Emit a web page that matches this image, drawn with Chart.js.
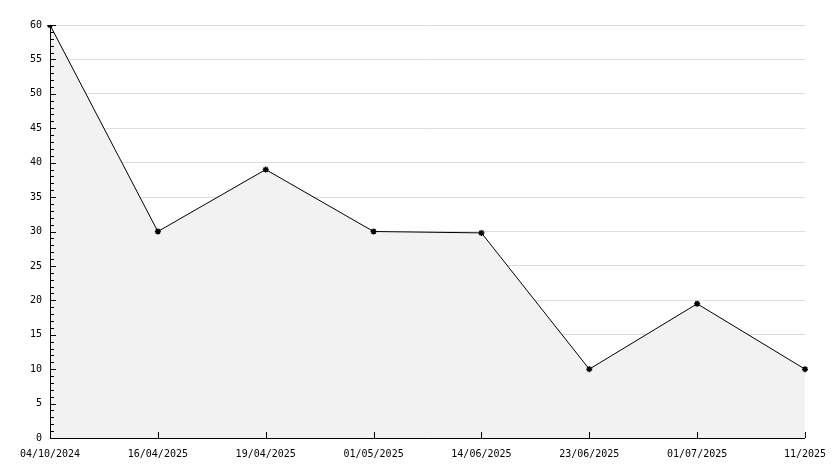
<!DOCTYPE html>
<html><head><meta charset="utf-8">
<script src="https://cdn.jsdelivr.net/npm/chart.js@4"></script>
<style>html,body{margin:0;background:#fff}#wrap{width:834px;height:468px}</style>
</head><body><div id="wrap"><canvas id="c"></canvas></div>
<script>
const labels = ["04/10/2024","16/04/2025","19/04/2025","01/05/2025","14/06/2025","23/06/2025","01/07/2025","11/2025"];
const values = [60, 30, 39, 30, 29.8, 10, 19.5, 10];
const yMax = 60, yStep = 5;

// inward tick marks, minor ticks on y every unit
const ticksPlugin = {
  id: "inwardTicks",
  afterDraw(chart) {
    const ctx = chart.ctx, x = chart.scales.x, y = chart.scales.y, a = chart.chartArea;
    ctx.save();
    ctx.strokeStyle = "#000"; ctx.lineWidth = 1;
    ctx.beginPath();
    ctx.moveTo(a.left + 0.5, a.top); ctx.lineTo(a.left + 0.5, a.bottom + 0.5); ctx.lineTo(a.right, a.bottom + 0.5);
    for (let v = 0; v <= yMax; v++) {
      const py = Math.round(y.getPixelForValue(v)) + 0.5;
      ctx.moveTo(a.left, py); ctx.lineTo(a.left + (v % yStep === 0 ? 6 : 4), py);
    }
    labels.forEach((l, i) => {
      if (i === 0) return;
      const px = Math.round(x.getPixelForValue(i)) + 0.5;
      ctx.moveTo(px, a.bottom); ctx.lineTo(px, a.bottom - 6);
    });
    ctx.stroke();
    ctx.restore();
  }
};

new Chart(document.getElementById("c"), {
  type: "line",
  data: {
    labels: labels,
    datasets: [{
      data: values,
      borderColor: "#000",
      borderWidth: 1,
      backgroundColor: "#f2f2f2",
      fill: "origin",
      tension: 0,
      pointStyle: "star",
      pointRadius: 3,
      pointBorderColor: "#000",
      pointBorderWidth: 1.5
    }]
  },
  options: {
    responsive: true,
    maintainAspectRatio: false,
    animation: false,
    layout: { padding: { top: 25, right: 29, left: 0, bottom: 0 } },
    plugins: { legend: { display: false }, tooltip: { enabled: false } },
    scales: {
      x: {
        offset: false,
        grid: { display: false },
        border: { display: false },
        ticks: { color: "#000", maxRotation: 0, autoSkip: false, padding: 2,
          font: { family: "DejaVu Sans Mono", size: 10 } },
        afterFit(s) { s.height = 30; }
      },
      y: {
        min: 0, max: yMax,
        grid: { color: "#dddddd", drawTicks: false },
        border: { display: false },
        ticks: { stepSize: yStep, color: "#000", padding: 8,
          font: { family: "DejaVu Sans Mono", size: 10 } },
        afterFit(s) { s.width = 50; }
      }
    }
  },
  plugins: [ticksPlugin]
});
</script>
</body></html>
